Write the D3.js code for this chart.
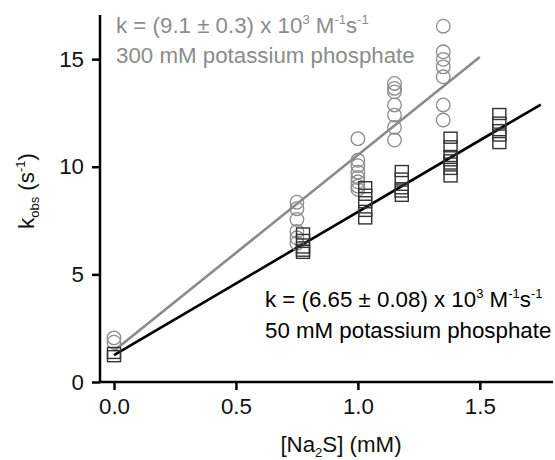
<!DOCTYPE html>
<html><head><meta charset="utf-8">
<script src="https://cdn.jsdelivr.net/npm/d3@7"></script>
<style>body{margin:0;background:#fff}text{font-family:"Liberation Sans",Arial,sans-serif}</style>
</head><body><svg id="c" width="555" height="460"></svg>
<script>
// Data (x in mM Na2S, y = kobs in s^-1)
const circleX = [0, 0, 0.75,0.75,0.75,0.75,0.75,0.75, 1.0,1.0,1.0,1.0,1.0,1.0,1.0,1.0, 1.15,1.15,1.15,1.15,1.15,1.15,1.15, 1.35,1.35,1.35,1.35,1.35,1.35,1.35];
const circleY = [2.05,1.85, 8.35,8.05,7.55,7.0,6.7,6.45, 11.3,10.3,10.05,9.75,9.5,9.3,9.1,8.95, 13.87,13.64,13.48,12.87,12.4,11.83,11.24, 16.53,15.34,14.99,14.64,14.18,12.87,12.17];
const squareX = [0,0, 0.775,0.775,0.775,0.775,0.775, 1.03,1.03,1.03,1.03,1.03, 1.18,1.18,1.18,1.18,1.18, 1.38,1.38,1.38,1.38,1.38,1.38,1.38, 1.58,1.58,1.58,1.58,1.58];
const squareY = [1.35,1.2, 6.9,6.6,6.25,6.1,6.0, 9.05,8.7,8.35,7.95,7.6, 9.8,9.45,9.0,8.85,8.65, 11.35,10.95,10.5,10.3,10.15,9.9,9.55, 12.45,12.05,11.7,11.45,11.1];
const grayFitX = [0, 1.5];
const grayFitY = [1.45, 15.1];
const blackFitX = [0, 1.75];
const blackFitY = [1.25, 12.89];
const xTicks = [0, 0.5, 1.0, 1.5];
const yTicks = [0, 5, 10, 15];

const svg = d3.select("#c");
const x = d3.scaleLinear().domain([0, 1.8]).range([114, 553]);
const y = d3.scaleLinear().domain([0, 17.05]).range([382, 15]);
const FS = 22.3;

// axes
const xAxis = svg.append("g").attr("transform","translate(0,382)")
  .call(d3.axisBottom(x).tickValues(xTicks).tickFormat(d3.format(".1f")).tickSize(8).tickPadding(8));
xAxis.select(".domain").attr("d","M100,0H553");
const yAxis = svg.append("g").attr("transform","translate(100,0)")
  .call(d3.axisLeft(y).tickValues(yTicks).tickFormat(d3.format("d")).tickSize(8).tickPadding(8));
yAxis.select(".domain").attr("d","M0,15V383");
svg.selectAll(".domain").attr("stroke","#000").attr("stroke-width",2.5);
svg.selectAll(".tick line").attr("stroke","#000").attr("stroke-width",2.5);
svg.selectAll(".tick text").attr("font-size",FS).attr("fill","#111").attr("font-family","Liberation Sans, Arial, sans-serif");

// fit lines
const line = d3.line().x(d=>x(d[0])).y(d=>y(d[1]));
svg.append("path").attr("d", line(d3.zip(grayFitX, grayFitY))).attr("stroke","#8a8a8a").attr("stroke-width",2.6).attr("fill","none");
svg.append("path").attr("d", line(d3.zip(blackFitX, blackFitY))).attr("stroke","#000").attr("stroke-width",2.6).attr("fill","none");

// circles
svg.append("g").selectAll("circle").data(d3.zip(circleX, circleY)).join("circle")
  .attr("cx", d=>x(d[0])).attr("cy", d=>y(d[1])).attr("r", 6.8)
  .attr("fill","none").attr("stroke","#8c8c8c").attr("stroke-width",1.3);
// squares
const SW = 13, SH = 11;
svg.append("g").selectAll("rect").data(d3.zip(squareX, squareY)).join("rect")
  .attr("x", d=>x(d[0])-SW/2).attr("y", d=>y(d[1])-SH/2).attr("width",SW).attr("height",SH)
  .attr("fill","none").attr("stroke","#333").attr("stroke-width",1.4);

// annotations
function kText(g, xp, yp, parts, color){
  const t = g.append("text").attr("x",xp).attr("y",yp).attr("font-size",FS).attr("fill",color);
  parts.forEach(p=>{
    const ts = t.append("tspan").text(p[0]);
    if(p[1]==="sup"){ ts.attr("font-size",13).attr("dy",-9); }
    else if(p[1]==="base"){ ts.attr("dy",9); }
  });
  return t;
}
function kLine(xp, yp, val, color){
  kText(svg, xp, yp, [[`k = (${val}) x 10`],["3","sup"],[" M","base"],["-1","sup"],["s","base"],["-1","sup"]], color);
}
kLine(116, 33, "9.1 ± 0.3", "#8c8c8c");
svg.append("text").attr("x",116).attr("y",63).attr("font-size",FS).attr("fill","#8c8c8c").text("300 mM potassium phosphate");
kLine(265, 307, "6.65 ± 0.08", "#000");
svg.append("text").attr("x",265).attr("y",338).attr("font-size",FS).attr("fill","#000").text("50 mM potassium phosphate");

// axis titles
const xt = svg.append("text").attr("x",341).attr("y",452).attr("text-anchor","middle").attr("font-size",FS).attr("fill","#111");
xt.append("tspan").text("[Na");
xt.append("tspan").text("2").attr("font-size",13).attr("dy",5);
xt.append("tspan").text("S] (mM)").attr("dy",-5);

const yt = svg.append("text").attr("transform","translate(34,191) rotate(-90)").attr("text-anchor","middle").attr("font-size",FS).attr("fill","#111");
yt.append("tspan").text("k");
yt.append("tspan").text("obs").attr("font-size",13).attr("dy",5);
yt.append("tspan").text(" (s").attr("dy",-5);
yt.append("tspan").text("-1").attr("font-size",13).attr("dy",-9);
yt.append("tspan").text(")").attr("dy",9);
</script></body></html>
